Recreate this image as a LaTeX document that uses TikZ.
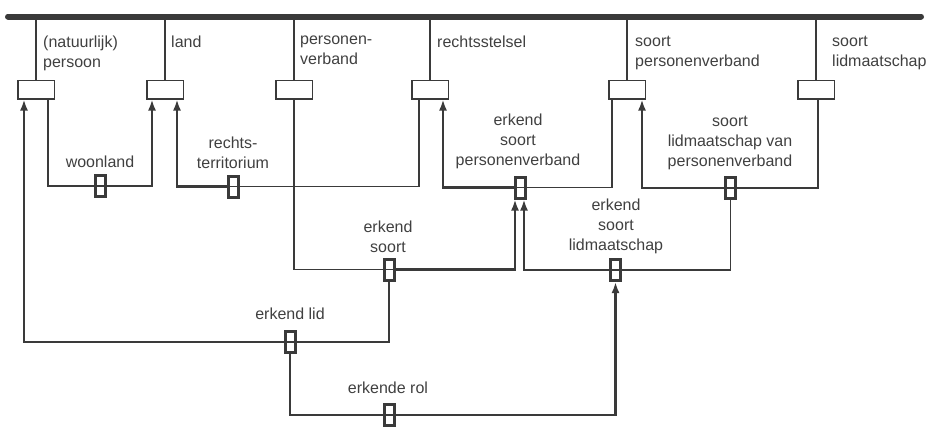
\documentclass[tikz,border=0pt]{standalone}
\usepackage{fontspec}
\setmainfont{Liberation Sans}
\usetikzlibrary{arrows.meta}
\definecolor{ink}{RGB}{58,58,58}
\definecolor{txt}{RGB}{64,64,64}
\tikzset{
	entity/.style={draw=ink, line width=1.5pt, minimum width=36.5pt, minimum height=18.5pt, inner sep=0pt},
	fact/.style={draw=ink, line width=3pt, minimum width=10pt, minimum height=21pt, inner sep=0pt},
	lbl/.style={text=txt, font=\fontsize{16}{20}\selectfont, inner sep=0pt, align=center},
	elbl/.style={lbl, align=left, anchor=north west},
	link/.style={draw=ink, line width=1.5pt},
	keylink/.style={draw=ink, line width=2.2pt, -{Latex[length=11pt,width=8pt]}},
	bar/.style={draw=ink, line width=6pt, line cap=round}
}
\begin{document}
\begin{tikzpicture}[x=1pt, y=-1pt]
	\useasboundingbox (0,0) rectangle (928,426);
	\coordinate (barL) at (8,16.5);
	\coordinate (barR) at (921,16.5);
	\draw[bar] (barL) -- (barR);
	% objecttypen
	\node[entity] (persoon) at (36,89.5) {};
	\node[entity] (land) at (165,89.5) {};
	\node[entity] (personenverband) at (294,89.5) {};
	\node[entity] (rechtsstelsel) at (430,89.5) {};
	\node[entity] (soortpv) at (627,89.5) {};
	\node[entity] (soortlid) at (816,89.5) {};
	\foreach \e in {persoon,land,personenverband,rechtsstelsel,soortpv,soortlid} \draw[link] (\e.north) -- (\e.north |- barL);
	\node[elbl] (tpersoon) at (43,35.5) {(natuurlijk)\\persoon};
	\node[elbl] (tland) at (171,35.5) {land};
	\node[elbl] (tpersonenverband) at (300,35.5) {personen-\\verband};
	\node[elbl] (trechtsstelsel) at (437,35.5) {rechtsstelsel};
	\node[elbl] (tsoortpv) at (635,35.5) {soort\\personenverband};
	\node[elbl] (tsoortlid) at (832,35.5) {soort\\lidmaatschap};
	% feittypen
	\node[fact] (woonland) at (100.5,186) {};
	\node[fact] (rterr) at (233.5,186.5) {};
	\node[fact] (esp) at (520,187.5) {};
	\node[fact] (slvp) at (730.5,188) {};
	\node[fact] (esoort) at (389,269.5) {};
	\node[fact] (esl) at (615.5,270) {};
	\node[fact] (elid) at (290,342) {};
	\node[fact] (erol) at (389,415) {};
	\foreach \f in {woonland,rterr,esp,slvp,esoort,esl,elid,erol} \draw[link] (\f.west) -- (\f.east);
	\node[lbl] (twoonland) at (100,161.5) {woonland};
	\node[lbl] (trterr) at (233,152.5) {rechts-\\territorium};
	\node[lbl] (tesp) at (518,141.5) {erkend\\soort\\personenverband};
	\node[lbl] (tslvp) at (730,142.5) {soort\\lidmaatschap van\\personenverband};
	\node[lbl] (tesoort) at (388,236.5) {erkend\\soort};
	\node[lbl] (tesl) at (616,226.5) {erkend\\soort\\lidmaatschap};
	\node[lbl] (telid) at (290,313.5) {erkend lid};
	\node[lbl] (terol) at (388,387.5) {erkende rol};
	% rollen
	\draw[link] (woonland.west) -| ([xshift=12]persoon.south);
	\draw[keylink] (woonland.east) -| ([xshift=-13]land.south);
	\draw[keylink] (rterr.west) -| ([xshift=12]land.south);
	\draw[link] (rterr.east) -| ([xshift=-11]rechtsstelsel.south);
	\draw[keylink] (esp.west) -| ([xshift=13]rechtsstelsel.south);
	\draw[link] (esp.east) -| ([xshift=-15]soortpv.south);
	\draw[keylink] (slvp.west) -| ([xshift=15]soortpv.south);
	\draw[link] (slvp.east) -| ([xshift=2]soortlid.south);
	\draw[link] (personenverband.south) |- (esoort.west);
	\draw[keylink] (esoort.east) -| ([xshift=-5]esp.south);
	\draw[keylink] (esl.west) -| ([xshift=4]esp.south);
	\draw[link] (esl.east) -| (slvp.south);
	\draw[keylink] (elid.west) -| ([xshift=-12]persoon.south);
	\draw[link] (elid.east) -| (esoort.south);
	\draw[link] (elid.south) |- (erol.west);
	\draw[keylink] (erol.east) -| (esl.south);
\end{tikzpicture}
\end{document}
